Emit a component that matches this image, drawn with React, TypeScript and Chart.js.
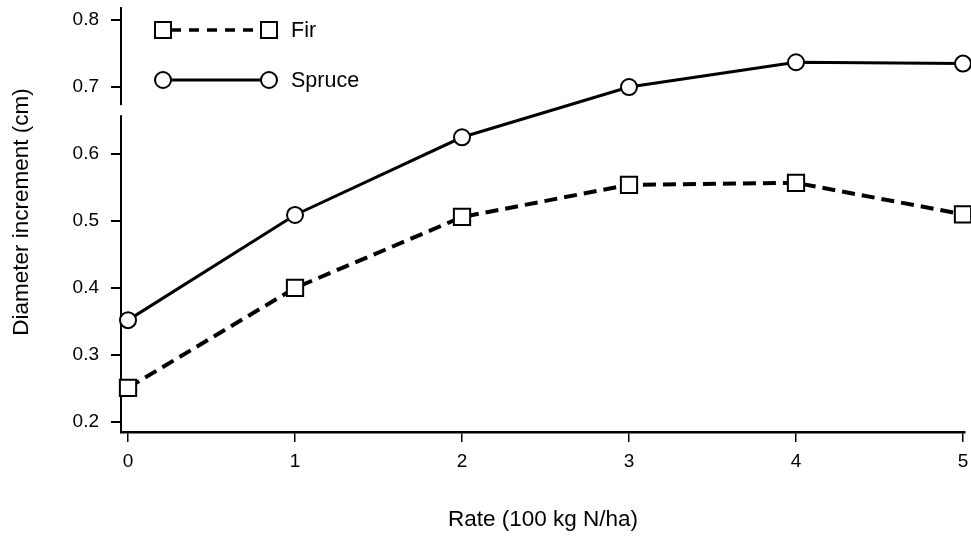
import React, { useEffect, useRef } from "react";
import { Chart, registerables } from "chart.js";

Chart.register(...registerables);

const rates = [0, 1, 2, 3, 4, 5];
const firValues = [0.251, 0.4, 0.506, 0.554, 0.557, 0.51];
const spruceValues = [0.352, 0.509, 0.625, 0.7, 0.737, 0.735];
const yTickValues = [0.2, 0.3, 0.4, 0.5, 0.6, 0.7, 0.8];
const xTickValues = [0, 1, 2, 3, 4, 5];
const seriesNames = ["Fir", "Spruce"];
const xTitle = "Rate (100 kg N/ha)";
const yTitle = "Diameter increment (cm)";
const yBreak = [0.658, 0.673];

const FONT = "'Liberation Sans', Arial, Helvetica, sans-serif";

const legendPlugin = {
  id: "customLegendBreak",
  afterDraw(chart: any) {
    const ctx = chart.ctx as CanvasRenderingContext2D;
    const ys = chart.scales.y;
    const yA = ys.getPixelForValue(yBreak[1]);
    const yB = ys.getPixelForValue(yBreak[0]);
    ctx.save();
    ctx.fillStyle = "#fff";
    ctx.fillRect(chart.chartArea.left - 4, yA, 8, yB - yA);
    ctx.restore();

    ctx.save();
    ctx.translate(22, (chart.chartArea.top + chart.chartArea.bottom) / 2 - 8);
    ctx.rotate(-Math.PI / 2);
    ctx.fillStyle = "#000";
    ctx.font = `22.5px ${FONT}`;
    ctx.textAlign = "center";
    ctx.textBaseline = "middle";
    ctx.fillText(yTitle, 0, 0);
    ctx.restore();

    const x0 = chart.chartArea.left + 42;
    const x1 = x0 + 106;
    const rowY = [30, 80];
    ctx.save();
    ctx.strokeStyle = "#000";
    ctx.lineCap = "butt";
    ctx.lineWidth = 3.5;
    ctx.setLineDash([10, 8]);
    ctx.beginPath();
    ctx.moveTo(x0 + 8, rowY[0]);
    ctx.lineTo(x1 - 8, rowY[0]);
    ctx.stroke();
    ctx.setLineDash([]);
    ctx.lineWidth = 2;
    for (const x of [x0, x1]) {
      ctx.fillStyle = "#fff";
      ctx.fillRect(x - 8, rowY[0] - 8, 16, 16);
      ctx.strokeRect(x - 8, rowY[0] - 8, 16, 16);
    }
    ctx.lineWidth = 3;
    ctx.beginPath();
    ctx.moveTo(x0, rowY[1]);
    ctx.lineTo(x1, rowY[1]);
    ctx.stroke();
    ctx.lineWidth = 2;
    for (const x of [x0, x1]) {
      ctx.beginPath();
      ctx.arc(x, rowY[1], 8, 0, Math.PI * 2);
      ctx.fillStyle = "#fff";
      ctx.fill();
      ctx.stroke();
    }
    ctx.fillStyle = "#000";
    ctx.font = `21.5px ${FONT}`;
    ctx.textBaseline = "middle";
    ctx.textAlign = "left";
    ctx.fillText(seriesNames[0], x1 + 22, rowY[0] + 1);
    ctx.fillText(seriesNames[1], x1 + 22, rowY[1] + 1);
    ctx.restore();
  },
};

export default function App() {
  const ref = useRef<HTMLCanvasElement>(null);
  useEffect(() => {
    if (!ref.current) return;
    const chart = new Chart(ref.current, {
      type: "line",
      data: {
        datasets: [
          {
            label: seriesNames[0],
            data: rates.map((r, i) => ({ x: r, y: firValues[i] })),
            borderColor: "#000",
            borderWidth: 4,
            borderDash: [13, 7],
            pointStyle: "rect",
            pointRadius: 11.5,
            pointBorderWidth: 2,
            pointBackgroundColor: "#fff",
            pointBorderColor: "#000",
            backgroundColor: "#fff",
            clip: false,
            tension: 0,
          },
          {
            label: seriesNames[1],
            data: rates.map((r, i) => ({ x: r, y: spruceValues[i] })),
            borderColor: "#000",
            borderWidth: 3,
            pointStyle: "circle",
            pointRadius: 8,
            pointBorderWidth: 2,
            pointBackgroundColor: "#fff",
            pointBorderColor: "#000",
            backgroundColor: "#fff",
            clip: false,
            tension: 0,
          },
        ],
      },
      options: {
        animation: false,
        responsive: false,
        layout: { autoPadding: false, padding: { top: 8, right: 6, left: 0, bottom: 0 } },
        plugins: { legend: { display: false }, tooltip: { enabled: false } },
        scales: {
          x: {
            type: "linear",
            min: -0.042,
            max: 5.012,
            afterFit: (s: any) => {
              s.height = 105;
              s.paddingLeft = 0;
              s.paddingRight = 0;
            },
            afterBuildTicks: (s: any) => {
              s.ticks = xTickValues.map((v) => ({ value: v }));
            },
            grid: {
              display: true,
              drawOnChartArea: false,
              drawTicks: true,
              tickLength: 10,
              color: "#000",
              lineWidth: 1.5,
            },
            border: { display: true, color: "#000", width: 2.5 },
            ticks: {
              color: "#000",
              font: { family: FONT, size: 19 },
              padding: 8,
              maxRotation: 0,
              callback: (v: any) => String(v),
            },
            title: {
              display: true,
              text: xTitle,
              color: "#000",
              font: { family: FONT, size: 22.5 },
              padding: { top: 0, bottom: 4 },
            },
          },
          y: {
            type: "linear",
            min: 0.185,
            max: 0.818,
            afterFit: (s: any) => {
              s.width = 121;
              s.paddingTop = 0;
              s.paddingBottom = 0;
            },
            afterBuildTicks: (s: any) => {
              s.ticks = yTickValues.map((v) => ({ value: v }));
            },
            grid: {
              display: true,
              drawOnChartArea: false,
              drawTicks: true,
              tickLength: 10,
              color: "#000",
              lineWidth: 2,
            },
            border: { display: true, color: "#000", width: 2 },
            ticks: {
              color: "#000",
              font: { family: FONT, size: 19 },
              padding: 12,
              callback: (v: any) => Number(v).toFixed(1),
            },
            title: { display: false },
          },
        },
      },
      plugins: [legendPlugin],
    });
    return () => chart.destroy();
  }, []);
  return (
    <div style={{ position: "fixed", left: 0, top: 0, width: 971, height: 537, background: "#fff" }}>
      <canvas ref={ref} width={971} height={537} style={{ display: "block" }} />
    </div>
  );
}
